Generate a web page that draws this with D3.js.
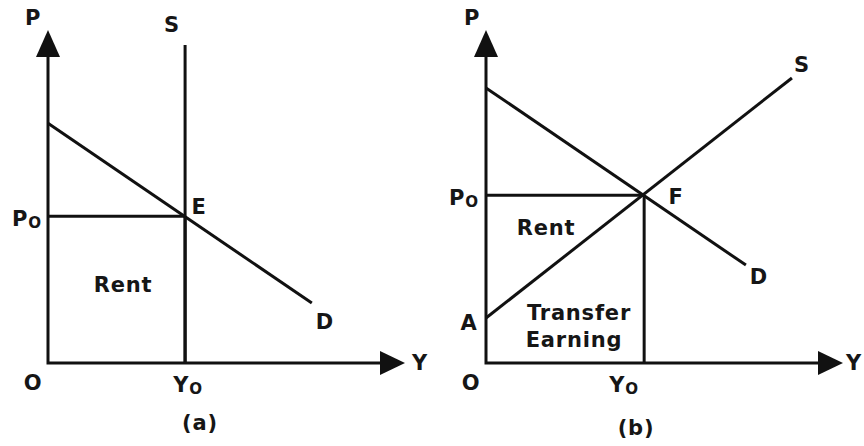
<!DOCTYPE html>
<html lang="en">
    <head>
        <meta charset="utf-8">
        <title>Rent and Transfer Earning</title>
        <script src="https://d3js.org/d3.v7.min.js"></script>
        <style type="text/css">
            body { margin: 0; background: #fff; }
            text { font-family: "DejaVu Sans", Verdana, sans-serif; font-weight: bold; fill: #161616; letter-spacing: 0.8px; }
        </style>
    </head>
    <body>
        <script>
        // data in chart units (Y along x axis, P along y axis, both 0..10)
        const panels = ["(a)", "(b)"];

        // panel (a): perfectly inelastic supply
        const demandA = [[0, 7.2], [7.39, 1.8]];
        const supplyA = [[3.84, 0], [3.84, 9.55]];
        const equilA = [3.84, 4.41];

        // panel (b): upward sloping supply
        const demandB = [[0, 8.26], [7.28, 2.94]];
        const supplyB = [[0, 1.35], [8.57, 8.56]];
        const equilB = [4.43, 5.04];

        const width = 864;
        const height = 446;
        const origins = [[48, 363], [486, 363]];
        const axisLen = [357, 333];
        const fs = 21;

        const svg = d3.select("body")
                    .append("svg")
                    .attr("width", width)
                    .attr("height", height);

        function drawPanel(i, demand, supply, eq) {
            const xScale = d3.scaleLinear()
                            .domain([0, 10])
                            .range([origins[i][0], origins[i][0] + axisLen[0]]);
            const yScale = d3.scaleLinear()
                            .domain([0, 10])
                            .range([origins[i][1], origins[i][1] - axisLen[1]]);
            const line = d3.line().x(d => xScale(d[0])).y(d => yScale(d[1]));
            const g = svg.append("g");

            const stroke = s => s.attr("fill", "none").attr("stroke", "#111").attr("stroke-width", 3);

            // axes
            g.append("path").attr("d", line([[0, 9.3], [0, 0], [9.4, 0]])).call(stroke).attr("stroke-linejoin", "miter");
            const x0 = xScale(0), y0 = yScale(0), yTop = yScale(10), xEnd = xScale(10);
            g.append("path")
                .attr("d", `M${x0},${yTop} L${x0 - 12},${yTop + 27} L${x0 + 12},${yTop + 27} Z`)
                .attr("fill", "#111");
            g.append("path")
                .attr("d", `M${xEnd},${y0} L${xEnd - 25},${y0 - 12} L${xEnd - 25},${y0 + 12} Z`)
                .attr("fill", "#111");

            // curves and guide lines
            g.append("path").attr("d", line(demand)).call(stroke);
            g.append("path").attr("d", line(supply)).call(stroke);
            g.append("path").attr("d", line([[0, eq[1]], eq])).call(stroke);
            g.append("path").attr("d", line([eq, [eq[0], 0]])).call(stroke);

            return {xScale, yScale, g};
        }

        function label(g, x, y, txt, sub) {
            const t = g.append("text")
                .attr("x", x).attr("y", y)
                .attr("text-anchor", "middle")
                .attr("dominant-baseline", "central")
                .style("font-size", fs + "px")
                .text(txt);
            if (sub) {
                t.append("tspan").attr("dy", "0.25em").style("font-size", (fs * 0.72) + "px").text(sub);
            }
            return t;
        }

        // panel (a)
        const a = drawPanel(0, demandA, supplyA, equilA);
        label(a.g, 33, 18, "P");
        label(a.g, 172, 25, "S");
        label(a.g, a.xScale(equilA[0]) + 14, a.yScale(equilA[1]) - 9, "E");
        label(a.g, 27, a.yScale(equilA[1]) + 3, "P", "O");
        label(a.g, 123, 285, "Rent");
        label(a.g, a.xScale(demandA[1][0]) + 13, a.yScale(demandA[1][1]) + 19, "D");
        label(a.g, 33, 383, "O");
        label(a.g, a.xScale(equilA[0]) + 3, 385, "Y", "O");
        label(a.g, 420, 363, "Y");
        label(a.g, 200, 423, panels[0]);

        // panel (b)
        const b = drawPanel(1, demandB, supplyB, equilB);
        label(b.g, 472, 18, "P");
        label(b.g, 802, 65, "S");
        label(b.g, b.xScale(equilB[0]) + 32, b.yScale(equilB[1]) + 2, "F");
        label(b.g, 464, b.yScale(equilB[1]) + 3, "P", "O");
        label(b.g, 546, 228, "Rent");
        label(b.g, b.xScale(demandB[1][0]) + 13, b.yScale(demandB[1][1]) + 12, "D");
        label(b.g, 469, 323, "A");
        label(b.g, 579, 313, "Transfer");
        label(b.g, 574, 340, "Earning");
        label(b.g, 471, 383, "O");
        label(b.g, b.xScale(equilB[0]) - 20, 385, "Y", "O");
        label(b.g, 854, 363, "Y");
        label(b.g, 636, 428, panels[1]);
        </script>
    </body>
</html>
